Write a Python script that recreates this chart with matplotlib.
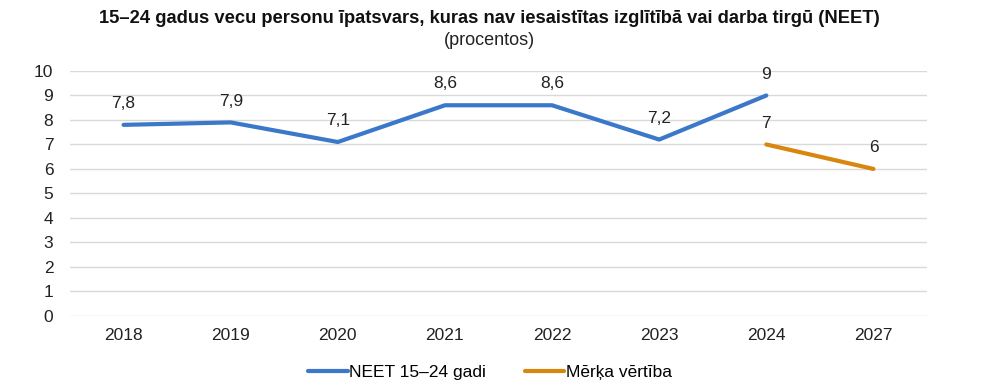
import matplotlib
matplotlib.use("Agg")
from matplotlib import pyplot as plt

plt.rcParams['font.family'] = ['Liberation Sans', 'DejaVu Sans']

# dati
years = ['2018', '2019', '2020', '2021', '2022', '2023', '2024', '2027']
neet = [7.8, 7.9, 7.1, 8.6, 8.6, 7.2, 9.0]
target = [7.0, 6.0]
neet_labels = ['7,8', '7,9', '7,1', '8,6', '8,6', '7,2', '9']
target_labels = ['7', '6']

blue = '#3B78C9'
orange = '#D9860F'

fig = plt.figure(figsize=(10, 3.9), dpi=100)
ax = fig.add_axes([0.07, 0.19, 0.857, 0.628])

x_neet = list(range(len(neet)))
x_target = [6, 7]
ax.plot(x_neet, neet, color=blue, lw=3, solid_capstyle='round', label='NEET 15–24 gadi')
ax.plot(x_target, target, color=orange, lw=3, solid_capstyle='round', label='Mērķa vērtība')

for x, v, t in zip(x_neet, neet, neet_labels):
    ax.annotate(t, (x, v), xytext=(0, 10), textcoords='offset points',
                ha='center', va='bottom', fontsize=12.5, color='#222222')
for x, v, t in zip(x_target, target, target_labels):
    ax.annotate(t, (x, v), xytext=(0, 10), textcoords='offset points',
                ha='center', va='bottom', fontsize=12.5, color='#222222')

ax.set_xlim(-0.5, 7.5)
ax.set_ylim(0, 10)
ax.set_yticks(range(0, 11))
ax.set_xticks(range(len(years)))
ax.set_xticklabels(years)
ax.grid(axis='y', color='#d9d9d9', lw=1)
ax.set_axisbelow(True)
for s in ax.spines.values():
    s.set_visible(False)
ax.tick_params(length=0, labelsize=12.5, colors='#222222')
ax.tick_params(axis='x', pad=9)
ax.tick_params(axis='y', pad=12)

fig.text(0.489, 0.953, '15–24 gadus vecu personu īpatsvars, kuras nav iesaistītas izglītībā vai darba tirgū (NEET)',
         ha='center', va='center', fontsize=13.2, fontweight='bold', color='#111111')
fig.text(0.489, 0.895, '(procentos)', ha='center', va='center', fontsize=13, color='#222222')

fig.legend(loc='center', bbox_to_anchor=(0.49, 0.045), ncol=2, frameon=False,
           fontsize=12.5, handlelength=2.3, handletextpad=0.1, columnspacing=2.2)

plt.savefig('out.png', dpi=100)
